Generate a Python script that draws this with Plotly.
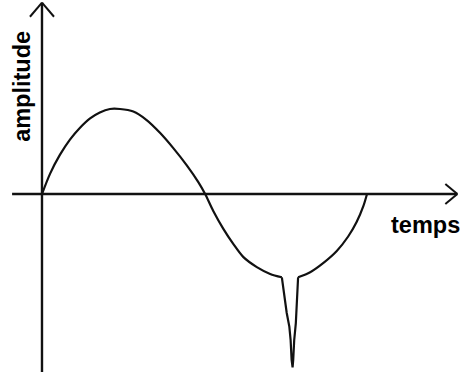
import plotly.graph_objects as go

# signal (arbitrary units)
temps = [0.00, 0.25, 0.55, 0.86, 1.17, 1.48, 1.78, 2.09, 2.40, 2.81, 3.22, 3.63,
         4.04, 4.45, 4.81, 5.02, 5.27, 5.58, 5.89, 6.19, 6.61, 7.02, 7.38,
         7.46, 7.53, 7.61, 7.65, 7.68, 7.71, 7.73, 7.76, 7.81, 7.84, 7.88,
         8.25, 8.66, 9.07, 9.42, 9.68, 9.89, 10.00]
amplitude = [0.00, 0.24, 0.46, 0.64, 0.78, 0.89, 0.96, 1.00, 1.00, 0.97, 0.87, 0.72,
             0.54, 0.34, 0.14, 0.00, -0.20, -0.41, -0.59, -0.74, -0.86, -0.94, -0.98,
             -1.21, -1.40, -1.56, -1.72, -1.95, -2.04, -1.95, -1.72, -1.52, -1.21, -0.98,
             -0.92, -0.81, -0.67, -0.50, -0.33, -0.14, 0.00]
spike_start, spike_end = 22, 33   # indices bounding the sharp glitch

x_label = "temps"
y_label = "amplitude"

# axis geometry
X_RANGE = [-1.292, 12.892]
Y_RANGE = [-2.094, 2.282]
x_axis_start, x_axis_end = -0.92, 12.78
y_axis_bottom, y_axis_top = -2.2, 2.25
ax_len_x, ax_half_y = 0.37, 0.118     # arrowhead on horizontal axis
ay_half_x, ay_len_y = 0.37, 0.165     # arrowhead on vertical axis

ink = "#111111"
fig = go.Figure()
segments = [
    (0, spike_start + 1, "spline"),
    (spike_start, spike_end + 1, "linear"),
    (spike_end, len(temps), "spline"),
]
for a, b, shape in segments:
    fig.add_trace(go.Scatter(x=temps[a:b], y=amplitude[a:b], mode="lines",
                             line=dict(color=ink, width=2.2, shape=shape, smoothing=0.8),
                             hoverinfo="skip", showlegend=False))

line = dict(color=ink, width=2.4)
arm = dict(color=ink, width=2)
shapes = [
    dict(type="line", xref="x", yref="y", x0=x_axis_start, y0=0, x1=x_axis_end, y1=0, line=line),
    dict(type="line", xref="x", yref="y", x0=x_axis_end - ax_len_x, y0=ax_half_y, x1=x_axis_end, y1=0, line=arm),
    dict(type="line", xref="x", yref="y", x0=x_axis_end - ax_len_x, y0=-ax_half_y, x1=x_axis_end, y1=0, line=arm),
    dict(type="line", xref="x", yref="y", x0=0, y0=y_axis_bottom, x1=0, y1=y_axis_top, line=line),
    dict(type="line", xref="x", yref="y", x0=-ay_half_x, y0=y_axis_top - ay_len_y, x1=0, y1=y_axis_top, line=arm),
    dict(type="line", xref="x", yref="y", x0=ay_half_x, y0=y_axis_top - ay_len_y, x1=0, y1=y_axis_top, line=arm),
]

font = dict(family="Liberation Sans, Arial, sans-serif", size=23.5, color="#000000")
annotations = [
    dict(x=10.68, y=-0.36, xref="x", yref="y", text="<b>" + x_label + "</b>", showarrow=False,
         xanchor="left", yanchor="middle", font=font),
    dict(x=-0.62, y=1.27, xref="x", yref="y", text="<b>" + y_label + "</b>", showarrow=False,
         textangle=-90, xanchor="center", yanchor="middle", font=font),
]

fig.update_layout(
    width=461, height=372, autosize=False,
    margin=dict(l=0, r=0, t=0, b=0, pad=0),
    paper_bgcolor="white", plot_bgcolor="white",
    xaxis=dict(range=X_RANGE, visible=False, fixedrange=True),
    yaxis=dict(range=Y_RANGE, visible=False, fixedrange=True),
    shapes=shapes, annotations=annotations,
    showlegend=False,
)

fig.write_html("out.html", config={"displayModeBar": False},
               post_script="document.body.style.margin='0';")
